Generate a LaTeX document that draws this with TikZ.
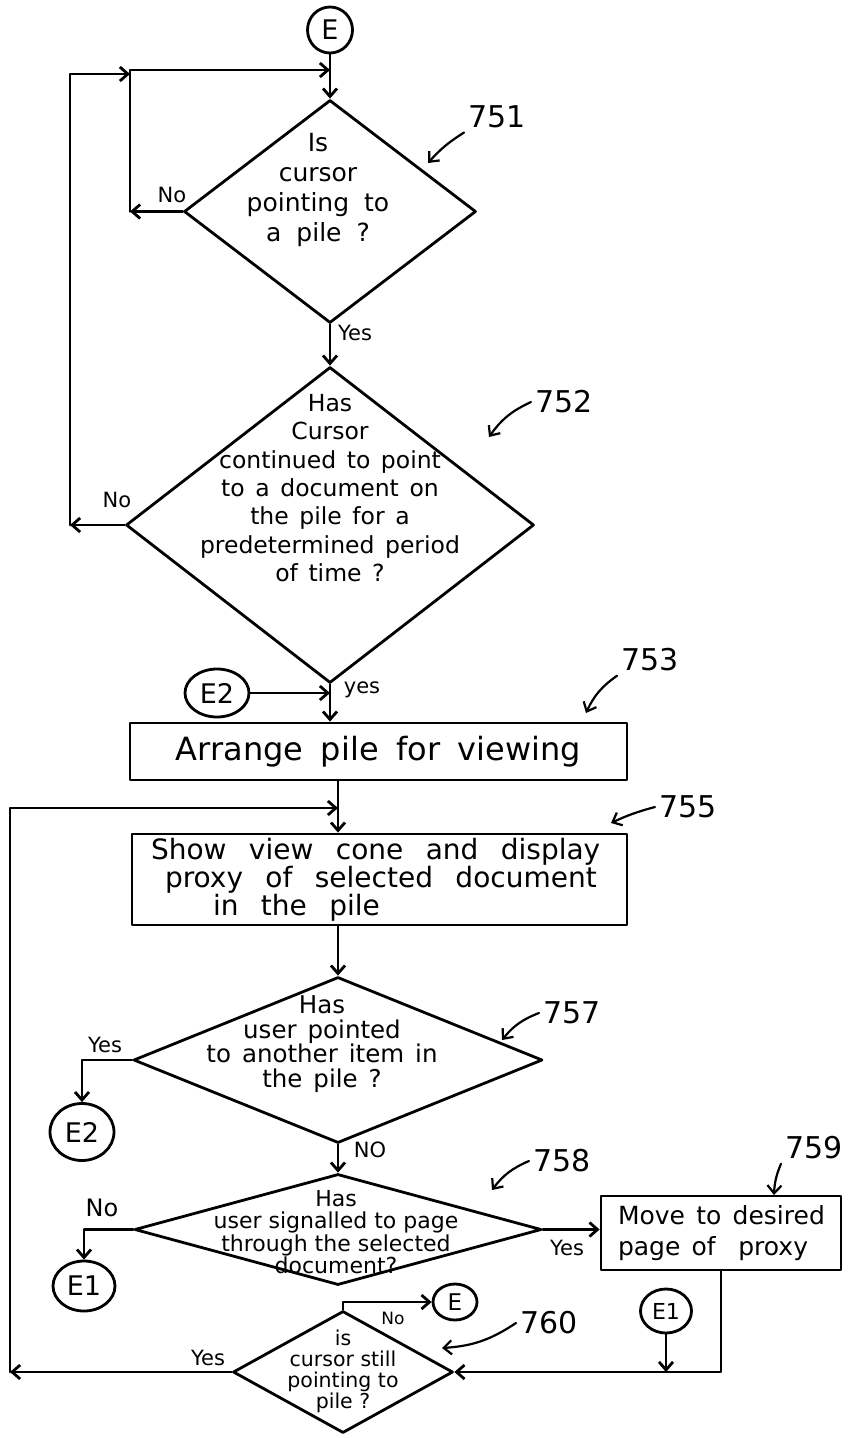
\documentclass[tikz,border=0pt]{standalone}
\usepackage{fontspec}
\setmainfont{DejaVu Sans}
\usetikzlibrary{shapes.geometric,arrows.meta}
\newcommand\myfs[2]{\fontsize{#1pt}{#2pt}\selectfont}
\newcommand\widesp[1]{\spaceskip=#1\relax}
\begin{document}
\begin{tikzpicture}[x=1pt,y=-1pt,
  line width=2.8pt, line join=round, line cap=round,
  >={Straight Barb[length=8pt,width=14pt]},
  dec/.style={diamond, draw, inner sep=0pt},
  txt/.style={align=center, inner sep=0pt},
  pbox/.style={draw, rectangle, inner sep=0pt},
  conn/.style={ellipse, draw, inner sep=0pt, font=\myfs{27}{29}},
  lab/.style={inner sep=1pt, font=\myfs{21}{23}},
  refnum/.style={inner sep=3pt, anchor=west, font=\myfs{30}{32}},
  refarrow/.style={->, line width=2.2pt},
]
\useasboundingbox (0,0) rectangle (849,1438);

% ---- nodes ----
\node[conn, minimum width=45, minimum height=46] (e) at (330,30) {E};
\node[dec, minimum width=292, minimum height=223] (d751) at (330,211.5) {};
\node[txt, font={\myfs{25}{30}\widesp{.6em}}] (t751) at (318,190) {Is\\cursor\\pointing to\\a pile ?};

\node[dec, minimum width=408, minimum height=316] (d752) at (330,525) {};
\node[txt, font={\myfs{23.5}{28.4}\widesp{.45em}}] (t752) at (330,488) {Has\\Cursor\\continued to point\\to a document on\\the pile for a\\predetermined period\\of time ?};

\node[conn, minimum width=64, minimum height=48] (e2a) at (217,693) {E2};

\node[pbox, minimum width=497, minimum height=57, font={\myfs{32}{34}\widesp{.55em}}] (arr) at (378.5,751.5) {Arrange pile for viewing};

\node[pbox, text width=457, inner xsep=19pt, minimum height=91, align=left, font=\myfs{28}{28}] (show) at (379.5,879.5) {\widesp{.8em}\mbox{Show view cone and display}\\\hspace*{14pt}\mbox{proxy of selected document}\\\hspace*{62pt}\mbox{in the pile}};

\node[dec, minimum width=409, minimum height=166] (d757) at (338,1060) {};
\node[txt, font={\myfs{24.5}{24.5}\widesp{.45em}}] (t757) at (322,1044) {Has\\user pointed\\to another item in\\the pile ?};
\node[conn, minimum width=64, minimum height=57] (e2b) at (82,1132) {E2};

\node[dec, minimum width=407, minimum height=111] (d758) at (338,1229.5) {};
\node[txt, font=\myfs{22}{22.5}] (t758) at (336,1232) {Has\\user signalled to page\\through the selected\\document?};
\node[conn, minimum width=62, minimum height=50] (e1a) at (84,1286) {E1};

\node[pbox, text width=206, inner xsep=17pt, minimum height=74, align=left, font=\myfs{25}{31}] (move) at (721,1233) {\widesp{.45em}\mbox{Move to desired}\\\mbox{page of \ proxy}};
\node[conn, minimum width=51, minimum height=44, font=\myfs{22}{24}] (e1b) at (666,1311) {E1};

\node[dec, minimum width=220, minimum height=122] (d760) at (343,1372) {};
\node[txt, font=\myfs{20.5}{21}] (t760) at (343,1371) {is\\cursor still\\pointing to\\pile ?};
\node[conn, minimum width=44, minimum height=36, font=\myfs{23}{25}] (e3) at (455,1302) {E};

% ---- edge labels ----
\node[lab] (n751) at (172,195) {No};
\node[lab] (y751) at (355,333) {Yes};
\node[lab] (n752) at (117,500) {No};
\node[lab] (y752) at (362,690) {yes};
\node[lab] (y757) at (105,1045) {Yes};
\node[lab] (n757) at (370,1150) {NO};
\node[lab, font=\myfs{24}{26}] (n758) at (102,1208) {No};
\node[lab] (y758) at (567,1248) {Yes};
\node[lab, font=\myfs{17}{19}] (n760) at (393,1318) {No};
\node[lab] (y760) at (208,1358) {Yes};

% ---- reference numerals ----
\node[refnum] (r751) at (464,117) {751};
\node[refnum] (r752) at (531,402) {752};
\node[refnum] (r753) at (617,660) {753};
\node[refnum] (r755) at (655,807) {755};
\node[refnum] (r757) at (539,1013) {757};
\node[refnum] (r758) at (529,1161) {758};
\node[refnum] (r759) at (781,1148) {759};
\node[refnum] (r760) at (516,1323) {760};

\coordinate (a751) at (428,163);
\coordinate (a752) at (489,437);
\coordinate (a753) at (586,713);
\coordinate (a755) at (611,823);
\coordinate (a757) at (502,1040);
\coordinate (a758) at (492,1190);
\coordinate (a759) at (774,1195);
\coordinate (a760) at (442,1348);

\draw[refarrow] (r751.south west) to[bend right=8] (a751);
\draw[refarrow] (r752.west) to[bend right=15] (a752);
\draw[refarrow] (r753.south west) to[bend right=15] (a753);
\draw[refarrow] (r755.west) to[bend right=5] (a755);
\draw[refarrow] (r757.west) to[bend right=15] (a757);
\draw[refarrow] (r758.west) to[bend right=15] (a758);
\draw[refarrow] (r759.south west) to[bend right=10] (a759);
\draw[refarrow] (r760.west) to[bend left=15] (a760);

% ---- loop corner coordinates ----
\coordinate (c1t) at (130,70);
\coordinate (c2t) at (70,74);
\coordinate (c3t) at (10,808);

% ---- connectors ----
\draw[->] (e.south) -- (d751.north);
\draw[->] (d751.south) -- (d752.north);
\draw[->] (d751.west) -- (d751.west -| c1t);
\draw[->] (d751.west -| c1t) -- (c1t) -- (c1t -| e.south);
\draw[->] (d752.west) -- (d752.west -| c2t);
\draw[->] (d752.west -| c2t) -- (c2t) -- (c2t -| c1t);
\draw[->] (d752.south) -- (d752.south |- arr.north);
\draw[->] (e2a.east) -- (e2a.east -| d752.south);
\draw[->] (arr.south -| d757.north) -- (show.north -| d757.north);
\draw[->] (show.south -| d757.north) -- (d757.north);
\draw[->] (d757.west) -| (e2b.north);
\draw[->] (d757.south) -- (d758.north);
\draw[->] (d758.west) -| (e1a.north);
\draw[->] (d758.east) -- (d758.east -| move.west);
\draw[->] (move.south) |- (d760.east);
\draw[->] (e1b.south) -- (e1b.south |- d760.east);
\draw[->] (d760.north) |- (e3.west);
\draw[->] (d760.west) -- (d760.west -| c3t);
\draw[->] (d760.west -| c3t) -- (c3t) -- (c3t -| d757.north);
\end{tikzpicture}
\end{document}
